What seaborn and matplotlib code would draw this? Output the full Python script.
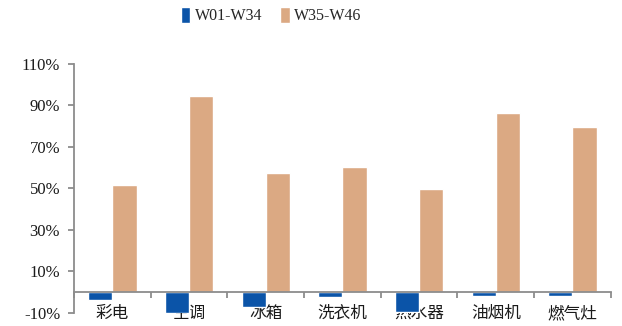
import matplotlib
matplotlib.use("Agg")
import matplotlib.pyplot as plt
import matplotlib.ticker as mticker
import seaborn as sns
import pandas as pd

# data
###############################################################################
categories = ['彩电', '空调', '冰箱', '洗衣机', '热水器', '油烟机', '燃气灶']
series_names = ['W01-W34', 'W35-W46']
w01_w34 = [-3.9, -10.2, -6.9, -2.2, -9.6, -2.0, -2.0]
w35_w46 = [51.6, 94.5, 57.2, 60.1, 49.5, 86.3, 79.5]
y_ticks = [-10, 10, 30, 50, 70, 90, 110]
colors = ['#0B54A8', '#DBA983']

df = pd.DataFrame({
    'cat': categories * 2,
    'series': [series_names[0]] * len(categories) + [series_names[1]] * len(categories),
    'value': w01_w34 + w35_w46,
})

# plot
###############################################################################
sns.set_style('white')
plt.rcParams['font.family'] = ['Liberation Serif', 'Noto Sans CJK SC']
plt.rcParams['axes.unicode_minus'] = False

fig = plt.figure(figsize=(6.22, 3.26), dpi=100)
ax = fig.add_axes([0.119, 0.040, 0.863, 0.764])

sns.barplot(data=df, x='cat', y='value', hue='series', order=categories,
            hue_order=series_names, palette=colors, width=0.63, gap=0,
            saturation=1, ax=ax, legend=True)

ax.set_ylim(-10, 110)
ax.set_xlim(-0.5, len(categories) - 0.5)
ax.set_yticks(y_ticks)
ax.yaxis.set_major_formatter(mticker.FuncFormatter(lambda v, p: '%d%%' % round(v)))
ax.set_xlabel('')
ax.set_ylabel('')

spine_col = '#8c8c8c'
for side in ['top', 'right']:
    ax.spines[side].set_visible(False)
ax.spines['left'].set_color(spine_col)
ax.spines['left'].set_linewidth(1.3)
ax.spines['bottom'].set_position(('data', 0))
ax.spines['bottom'].set_color(spine_col)
ax.spines['bottom'].set_linewidth(1.3)
ax.spines['bottom'].set_zorder(5)

# ticks at category borders, labels under the plot
ax.set_xticks([i - 0.5 for i in range(len(categories) + 1)])
ax.set_xticklabels([])
ax.set_xticks(range(len(categories)), minor=True)
ax.set_xticklabels(categories, minor=True)
ax.tick_params(axis='x', which='major', direction='out', length=4, width=1.3,
               color=spine_col, bottom=True)
ax.tick_params(axis='x', which='minor', length=0, pad=10, labelsize=12,
               labelcolor='#1a1a1a')
ax.tick_params(axis='y', direction='out', length=4, width=1.3, color=spine_col,
               left=True, labelsize=12, labelcolor='#1a1a1a', pad=6)

handles, labels = ax.get_legend_handles_labels()
ax.legend_.remove()
fig.legend(handles, labels, loc='center', bbox_to_anchor=(0.436, 0.952), ncol=2,
           frameon=False, fontsize=11.5, handlelength=0.6, handleheight=1.2,
           handletextpad=0.3, columnspacing=1.1)

plt.savefig('out.png', dpi=100)
